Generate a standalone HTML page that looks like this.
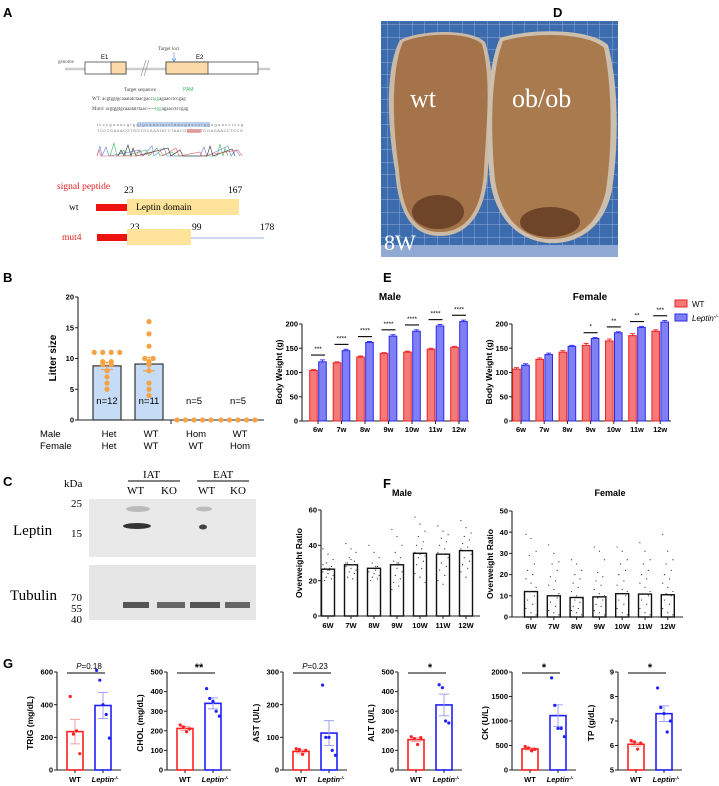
<!DOCTYPE html>
<html><head><meta charset="utf-8"><style>
html,body{margin:0;padding:0;background:#fff}
svg{display:block;font-family:"Liberation Sans",Arial,sans-serif}
.pl{font-weight:bold;font-size:13px}
.tk{font-size:7.5px;font-weight:bold}
.yt{font-size:8.5px;font-weight:bold}
.ser{font-family:"Liberation Serif",serif}
</style></head><body>
<svg id="fig" width="719" height="786" viewBox="0 0 719 786">
<text class="pl" x="3" y="17">A</text>
<text class="pl" x="553" y="17">D</text>
<text class="pl" x="3" y="282">B</text>
<text class="pl" x="383" y="282">E</text>
<text class="pl" x="3" y="486">C</text>
<text class="pl" x="383" y="488">F</text>
<text class="pl" x="3" y="668">G</text>

<g>
<text x="58" y="63" font-size="5" class="ser" fill="#555">genome</text>
<line x1="65" y1="69" x2="270" y2="69" stroke="#ccc" stroke-width="2.5"/>
<rect x="85" y="62" width="41" height="12" fill="#fff" stroke="#333" stroke-width="0.7"/>
<rect x="111" y="62" width="15" height="12" fill="#fbd9a8" stroke="#333" stroke-width="0.7"/>
<line x1="141" y1="76" x2="146" y2="60" stroke="#888" stroke-width="0.6"/>
<line x1="144" y1="76" x2="149" y2="60" stroke="#888" stroke-width="0.6"/>
<rect x="166" y="62" width="92" height="12" fill="#fff" stroke="#333" stroke-width="0.7"/>
<rect x="166" y="62" width="42" height="12" fill="#fbd9a8" stroke="#333" stroke-width="0.7"/>
<text x="101" y="59" font-size="6">E1</text>
<text x="196" y="59" font-size="6">E2</text>
<text x="158" y="50" font-size="5" class="ser" fill="#444">Target loci</text>
<line x1="174" y1="52" x2="174" y2="61" stroke="#4a7fd6" stroke-width="0.6"/>
<path d="M172,58 L174,62 L176,58" fill="none" stroke="#4a7fd6" stroke-width="0.6"/>
<text x="124" y="91" font-size="5" class="ser" fill="#444">Target sequence</text>
<text x="183" y="91" font-size="5" fill="#3cb86b">PAM</text>
<text x="92" y="100" font-size="5" class="ser" fill="#444">WT:   acgtggtgcaaatatctaacgacc<tspan fill="#3cb86b">tgg</tspan>agaacctccgag</text>
<text x="92" y="110" font-size="5" class="ser" fill="#444">Mut4:  acgtggtgcaaatatctaac-----<tspan fill="#3cb86b">tgg</tspan>agaacctccgag</text>
<rect x="137" y="122" width="73" height="5" fill="#b9d0f0"/>
<rect x="187" y="129" width="14" height="4" fill="#f4a8a8"/>
<text x="97" y="126" font-size="4" fill="#777" textLength="146">tcccgaaacgtggtgcaaatatctaacgaccctggagaacctccg</text>
<text x="97" y="132" font-size="4" fill="#777" textLength="146">TCCCGAAACGTGGTGCAAATATCTAACGCCCCTGGAGAACCTCCG</text>
<polyline fill="none" stroke="#6a7fe0" stroke-width="0.6" points="97,156 100,146 102,156 106,147 109,156 140,150 143,156 152,146 154,156 164,148 167,156 200,156 204,147 207,156 228,146 231,156 236,150 240,156"/>
<polyline fill="none" stroke="#3cb86b" stroke-width="0.6" points="110,156 114,143 117,156 124,150 126,156 146,150 149,156 157,148 160,156 172,152 175,156 217,156 220,144 223,156 225,148 228,156"/>
<polyline fill="none" stroke="#333" stroke-width="0.6" points="118,156 121,150 124,156 128,145 131,156 133,148 136,156 168,148 171,156 180,150 183,156 207,156 210,146 213,156 232,149 235,156"/>
<polyline fill="none" stroke="#e06060" stroke-width="0.6" points="97,156 99,150 101,156 136,156 139,150 141,156 160,150 163,156 176,148 179,156 200,152 202,156 238,150 242,156"/>
</g>
<g>
<text x="57" y="189" font-size="9.5" class="ser" fill="#e52222">signal peptide</text>
<text x="124" y="193" font-size="9.5" class="ser">23</text>
<text x="228" y="193" font-size="9.5" class="ser">167</text>
<text x="69" y="210" font-size="9.5" class="ser">wt</text>
<rect x="96" y="204" width="31" height="7" fill="#ee1111"/>
<rect x="127" y="199" width="112" height="16" fill="#fde49a"/>
<text x="136" y="210" font-size="9.5" class="ser">Leptin domain</text>
<text x="130" y="230" font-size="9.5" class="ser">23</text>
<text x="192" y="230" font-size="9.5" class="ser">99</text>
<text x="260" y="230" font-size="9.5" class="ser">178</text>
<text x="62" y="240" font-size="9.5" class="ser" fill="#e52222">mut4</text>
<rect x="97" y="234" width="31" height="7" fill="#ee1111"/>
<rect x="127" y="229" width="64" height="16" fill="#fde49a"/>
<line x1="191" y1="238" x2="264" y2="238" stroke="#7a9ad8" stroke-width="0.8"/>
</g>

<g>
<defs><pattern id="grid" width="12.5" height="12.5" patternUnits="userSpaceOnUse"><rect width="12.5" height="12.5" fill="#3d6cae"/><path d="M12.5,0 L12.5,12.5 M0,12.5 L12.5,12.5" stroke="#a9c2e6" stroke-width="0.7"/></pattern></defs>
<rect x="381" y="21" width="237" height="236" fill="url(#grid)"/>
<rect x="381" y="245" width="237" height="12" fill="#8fa9d2"/>
<path d="M400,40 C420,30 470,28 485,42 C498,80 490,130 488,170 C486,210 470,236 440,236 C410,236 398,210 395,170 C388,130 384,70 400,40 Z" fill="#c9b9a5"/>
<path d="M403,42 C422,33 468,31 482,44 C492,80 486,130 484,170 C482,208 468,232 440,232 C412,232 402,208 399,170 C393,130 390,72 403,42 Z" fill="#a5734a"/>
<path d="M500,38 C530,28 590,28 608,45 C620,90 618,150 612,190 C604,230 575,245 548,243 C515,240 495,215 490,180 C485,130 486,70 500,38 Z" fill="#cdbfae"/>
<path d="M503,41 C532,32 588,32 604,48 C613,90 612,150 606,190 C598,228 574,240 548,239 C518,237 500,213 495,180 C490,130 491,72 503,41 Z" fill="#a97a4e"/>
<ellipse cx="438" cy="212" rx="26" ry="17" fill="#6e4528"/>
<ellipse cx="550" cy="222" rx="30" ry="15" fill="#6e4528"/>
<text x="410" y="107" font-size="26" class="ser" fill="#fff">wt</text>
<text x="512" y="107" font-size="26" class="ser" fill="#fff">ob/ob</text>
<text x="384" y="250" font-size="22" class="ser" fill="#fff">8W</text>
</g>

<g>
<text x="64" y="487" font-size="11" class="ser">kDa</text>
<text x="143" y="478" font-size="11" class="ser">IAT</text>
<line x1="128" y1="481" x2="180" y2="481" stroke="#000" stroke-width="0.9"/>
<text x="213" y="478" font-size="11" class="ser">EAT</text>
<line x1="197" y1="481" x2="249" y2="481" stroke="#000" stroke-width="0.9"/>
<text x="127" y="494" font-size="11" class="ser">WT</text>
<text x="161" y="494" font-size="11" class="ser">KO</text>
<text x="198" y="494" font-size="11" class="ser">WT</text>
<text x="230" y="494" font-size="11" class="ser">KO</text>
<rect x="89" y="499" width="167" height="58" fill="#e9e9e9"/>
<ellipse cx="137" cy="526" rx="14" ry="3" fill="#333"/>
<ellipse cx="138" cy="509" rx="12" ry="3" fill="#bbb"/>
<ellipse cx="204" cy="509" rx="8" ry="2.5" fill="#bbb"/>
<ellipse cx="203" cy="527" rx="4" ry="2.5" fill="#444"/>
<rect x="89" y="565" width="167" height="55" fill="#e6e6e6"/>
<rect x="123" y="602" width="26" height="6" fill="#555"/>
<rect x="157" y="602" width="28" height="6" fill="#666"/>
<rect x="190" y="602" width="30" height="6" fill="#555"/>
<rect x="225" y="602" width="25" height="6" fill="#666"/>
<text x="13" y="535" font-size="15" class="ser">Leptin</text>
<text x="71" y="507" font-size="11" class="ser">25</text>
<text x="71" y="537" font-size="11" class="ser">15</text>
<text x="10" y="600" font-size="15" class="ser">Tubulin</text>
<text x="71" y="601" font-size="11" class="ser">70</text>
<text x="71" y="612" font-size="11" class="ser">55</text>
<text x="71" y="623" font-size="11" class="ser">40</text>
</g>
<g id="charts"></g>
</svg>
<script>
const litterGroups = ["Het\nHet","WT\nWT","Hom\nWT","WT\nHom"];
const litterMeans = [8.8, 9.1, 0, 0];
const litterSem = [0.6, 1.1, 0, 0];
const litterN = ["n=12","n=11","n=5","n=5"];
const litterPts = [[11,11,11,11,9.5,9.5,9,9,8,7,6,5],[16,14,12,10,10,9.5,9,8,6,5,4],[0,0,0,0,0],[0,0,0,0,0]];
const litterTicks = [0,5,10,15,20];
const weeks = ["6w","7w","8w","9w","10w","11w","12w"];
const maleWT = [104,120,132,139,142,148,152];
const maleKO = [122,145,162,175,185,196,205];
const maleWTsem = [2,2,2,2,2,2,2];
const maleKOsem = [4,3,2,3,3,3,3];
const maleSig = ["***","****","****","****","****","****","****"];
const femWT = [107,127,142,156,165,176,185];
const femKO = [115,137,154,170,182,193,204];
const femWTsem = [3,3,3,4,4,4,3];
const femKOsem = [3,3,2,2,2,2,3];
const femSig = ["","","","*","**","**","***"];
const bwTicks = [0,50,100,150,200];
const weeksF = ["6W","7W","8W","9W","10W","11W","12W"];
const maleOR = [26.5,29,27,29,35.5,35,37];
const femOR = [12,10,9.2,9.5,11,10.8,10.5];
const maleORpts = [[38,35,32,30,28,27,26,25,24,23,22,21,20,27,29,26],[41,38,36,33,31,30,29,28,27,26,25,24,22,21,30,32],[40,36,33,30,28,27,26,25,24,23,22,21,20,28],[49,45,40,36,33,31,30,29,27,25,23,21,19,17,15,30],[56,52,48,45,42,40,38,36,35,34,33,31,29,27,24,22,19],[51,48,46,44,42,40,38,36,35,33,30,28,26,23,20,18],[54,50,47,45,43,41,39,38,37,35,33,31,29,27,25,22]];
const femORpts = [[39,37,31,29,25,22,20,18,16,14,12,10,8,6,4,2,1],[34,30,26,25,22,19,17,15,13,11,10,9,7,5,3,2,1],[27,25,22,20,18,16,14,12,10,9,8,7,5,4,3,2,1],[33,31,27,21,19,17,15,13,11,10,9,8,6,5,3,2,1],[33,31,27,25,22,20,17,15,13,12,11,10,8,6,4,2,1],[35,31,27,25,22,20,18,16,14,12,11,10,8,6,4,2,1],[39,31,27,25,22,20,18,16,14,12,11,10,8,6,4,2,1]];
const maleORTicks = [0,20,40,60];
const femORTicks = [0,10,20,30,40,50];
const gNames = ["TRIG (mg/dL)","CHOL (mg/dL)","AST (U/L)","ALT (U/L)","CK (U/L)","TP (g/dL)"];
const gWT = [235,212,57,155,430,6.05];
const gKO = [395,340,113,332,1110,7.3];
const gWTsem = [75,10,5,10,25,0.08];
const gKOsem = [80,28,38,55,220,0.32];
const gWTpts = [[450,220,240,100],[230,220,195,210],[65,63,48,60],[170,160,130,165],[480,450,390,420],[6.2,6.15,5.85,6.1]];
const gKOpts = [[610,550,400,340,195],[415,365,350,300,275],[260,100,100,60,45],[435,420,250,240],[1880,1320,850,850,680],[8.35,7.55,7.3,6.55,7.0]];
const gSig = ["P=0.18","**","P=0.23","*","*","*"];
const gTicks = [[0,200,400,600],[0,100,200,300,400,500],[0,100,200,300],[0,100,200,300,400,500],[0,500,1000,1500,2000],[5,6,7,8,9]];
const gMax = [700,500,300,500,2000,9];
const gMin = [0,0,0,0,0,5];

const NS="http://www.w3.org/2000/svg";
const root=document.getElementById('charts');
function mk(tag,attrs,parent){const e=document.createElementNS(NS,tag);for(const k in attrs)e.setAttribute(k,attrs[k]);(parent||root).appendChild(e);return e;}
function txt(s,attrs,parent){const e=mk('text',attrs,parent);e.textContent=s;return e;}
function lin(d0,d1,r0,r1){return v=>r0+(v-d0)/(d1-d0)*(r1-r0);}
function yAxis(g,x,y,ticks,fs){mk('line',{x1:x,y1:y(ticks[0]),x2:x,y2:y(ticks[ticks.length-1]),stroke:'#222','stroke-width':1.1},g);ticks.forEach(t=>{mk('line',{x1:x-3,y1:y(t),x2:x,y2:y(t),stroke:'#222','stroke-width':1},g);txt(String(t),{x:x-4,y:y(t)+2.6,'text-anchor':'end',class:'tk','font-size':fs||7.5},g);});}

(function(){
 const g=mk('g',{});
 
 
 const y=lin(0,20,420,297); const xs=[107,149,194,238];
 yAxis(g,78,y,litterTicks,9);
 mk('line',{x1:78,y1:420,x2:264,y2:420,stroke:'#222','stroke-width':1.1},g);
 mk('line',{x1:171,y1:420,x2:171,y2:424,stroke:'#222','stroke-width':1},g);
 txt('Litter size',{x:0,y:0,transform:'translate(56,358) rotate(-90)','text-anchor':'middle','font-size':10,'font-weight':'bold'},g);
 litterGroups.forEach((lab,i)=>{
  if(litterMeans[i]>0){const b=mk('rect',{x:xs[i]-14,y:y(litterMeans[i]),width:28,height:420-y(litterMeans[i]),fill:'#c6dbf5',stroke:'#333','stroke-width':1.2},g);
   
   
   mk('line',{x1:xs[i],y1:y(litterMeans[i]+litterSem[i]),x2:xs[i],y2:y(litterMeans[i]-litterSem[i]),stroke:'#f5a040',"stroke-width":1},g);
   mk('line',{x1:xs[i]-6,y1:y(litterMeans[i]+litterSem[i]),x2:xs[i]+6,y2:y(litterMeans[i]+litterSem[i]),stroke:'#f5a040',"stroke-width":1},g);
   mk('line',{x1:xs[i]-6,y1:y(litterMeans[i]-litterSem[i]),x2:xs[i]+6,y2:y(litterMeans[i]-litterSem[i]),stroke:'#f5a040',"stroke-width":1},g);}
  const cnt={};litterPts[i].forEach(v=>{cnt[v]=(cnt[v]||0)+1;});
  const seen={};litterPts[i].forEach(v=>{const n=cnt[v];const k=seen[v]=(seen[v]||0)+1;const off=(k-1-(n-1)/2)*8.5;
   const c=mk('circle',{cx:xs[i]+off,cy:y(v),r:2.6,fill:'#f7a245'},g);
   
   });
  txt(litterN[i],{x:xs[i],y:404,'text-anchor':'middle','font-size':9.5},g);
  const p=lab.split('\n');
  txt(p[0],{x:xs[i]+2,y:437,'text-anchor':'middle','font-size':9.5},g);
  txt(p[1],{x:xs[i]+2,y:449,'text-anchor':'middle','font-size':9.5},g);
 });
 txt('Male',{x:40,y:437,'font-size':9.5},g);txt('Female',{x:40,y:449,'font-size':9.5},g);
})();

function bwChart(name,ax,xEnd,x0,dx,wt,ko,wts,kos,sig,title,tx){
 const g=mk('g',{});
 
 
 const y=lin(0,200,421,324);
 yAxis(g,ax,y,bwTicks);
 mk('line',{x1:ax,y1:421,x2:xEnd,y2:421,stroke:'#222','stroke-width':1.1},g);
 txt('Body Weight (g)',{transform:`translate(${ax-20},372) rotate(-90)`,'text-anchor':'middle',class:'yt'},g);
 txt(title,{x:tx,y:300,'text-anchor':'middle','font-size':10,'font-weight':'bold'},g);
 weeks.forEach((w,i)=>{const c=x0+i*dx;
  [[wt,wts,'#f47a7a','#ee2222',-4.5],[ko,kos,'#8080f4','#2a2aee',4.5]].forEach(([d,s,f,st,o])=>{
   const bx=c+o;const r=mk('rect',{x:bx-3.8,y:y(d[i]),width:7.6,height:421-y(d[i]),fill:f,stroke:st,'stroke-width':1},g);
   
   
   mk('line',{x1:bx,y1:y(d[i]),x2:bx,y2:y(d[i]+s[i]),stroke:st,'stroke-width':0.9},g);
   mk('line',{x1:bx-2.5,y1:y(d[i]+s[i]),x2:bx+2.5,y2:y(d[i]+s[i]),stroke:st,'stroke-width':0.9},g);
  });
  mk('line',{x1:c,y1:421,x2:c,y2:424,stroke:'#222','stroke-width':1},g);
  txt(w,{x:c,y:432,'text-anchor':'middle',class:'tk'},g);
  if(sig[i]){const ly=y(ko[i]+kos[i]+10);mk('line',{x1:c-7,y1:ly,x2:c+7,y2:ly,stroke:'#000','stroke-width':1.1},g);
   txt(sig[i],{x:c,y:ly-4,'text-anchor':'middle','font-size':6.5},g);}
 });
}
bwChart('male-weight-chart',302,469,318,23.5,maleWT,maleKO,maleWTsem,maleKOsem,maleSig,'Male',390);
bwChart('female-weight-chart',512,671,521,23.2,femWT,femKO,femWTsem,femKOsem,femSig,'Female',590);
(function(){const g=mk('g',{});
 
 
 mk('rect',{x:675,y:300,width:12,height:7,fill:'#f47a7a',stroke:'#ee2222','stroke-width':1},g);
 txt('WT',{x:692,y:307,'font-size':8},g);
 mk('rect',{x:675,y:314,width:12,height:7,fill:'#8080f4',stroke:'#2a2aee','stroke-width':1},g);
 const t=txt('Leptin',{x:692,y:321,'font-size':8,'font-style':'italic'},g);
 const s=mk('tspan',{dy:-3,'font-size':5},t);s.textContent='-/-';
})();

function orChart(name,ax,xEnd,y0,yTop,tMax,ticks,x0,dx,means,pts,title,tx){
 const g=mk('g',{});
 
 
 const y=lin(0,tMax,y0,yTop);
 yAxis(g,ax,y,ticks);
 mk('line',{x1:ax,y1:y0,x2:xEnd,y2:y0,stroke:'#222','stroke-width':1.1},g);
 txt('Overweight Ratio',{transform:`translate(${ax-19},${(y0+yTop)/2}) rotate(-90)`,'text-anchor':'middle',class:'yt'},g);
 txt(title,{x:tx,y:496,'text-anchor':'middle','font-size':9,'font-weight':'bold'},g);
 weeksF.forEach((w,i)=>{const c=x0+i*dx;
  const r=mk('rect',{x:c-6.5,y:y(means[i]),width:13,height:y0-y(means[i]),fill:'#fff',stroke:'#111','stroke-width':1.4},g);
  
  
  pts[i].forEach((v,k)=>{const d=mk('circle',{cx:c+((k*3)%7-3)*1.7,cy:y(v),r:0.6,fill:'#333'},g);
   
   });
  mk('line',{x1:c,y1:y0,x2:c,y2:y0+3,stroke:'#222','stroke-width':1},g);
  txt(w,{x:c,y:y0+12,'text-anchor':'middle',class:'tk'},g);
 });
}
orChart('male-overweight-chart',321,480,616,510,60,maleORTicks,328,23,maleOR,maleORpts,'Male',402);
orChart('female-overweight-chart',512,683,617,511,50,femORTicks,531,22.8,femOR,femORpts,'Female',610);

const gAx=[57,167,283,398,512,618];
gNames.forEach((nm,j)=>{
 const g=mk('g',{});
 
 
 const ax=gAx[j];const y=lin(gMin[j],gMax[j],770,770-(gMax[j]-gMin[j])/(gTicks[j][gTicks[j].length-1]-gMin[j])*98);
 yAxis(g,ax,y,gTicks[j]);
 mk('line',{x1:ax,y1:770,x2:ax+64,y2:770,stroke:'#222','stroke-width':1.1},g);
 txt(nm,{transform:`translate(${ax-24},723) rotate(-90)`,'text-anchor':'middle',class:'yt'},g);
 const cw=ax+18,ck=ax+46;
 [[cw,gWT,gWTsem,gWTpts,'#ff2020','#f7a0a0'],[ck,gKO,gKOsem,gKOpts,'#2020ff','#a0a0f7']].forEach(([c,m,s,p,col,lt])=>{
  const r=mk('rect',{x:c-8,y:y(m[j]),width:16,height:770-y(m[j]),fill:'#fff',stroke:col,'stroke-width':1.6},g);
  
  
  mk('line',{x1:c,y1:y(m[j]+s[j]),x2:c,y2:y(m[j]-s[j]),stroke:lt,'stroke-width':1},g);
  mk('line',{x1:c-5,y1:y(m[j]+s[j]),x2:c+5,y2:y(m[j]+s[j]),stroke:lt,'stroke-width':1},g);
  mk('line',{x1:c-5,y1:y(m[j]-s[j]),x2:c+5,y2:y(m[j]-s[j]),stroke:lt,'stroke-width':1},g);
  p[j].forEach((v,k)=>{const n=p[j].length;const d=mk('circle',{cx:c+(k-(n-1)/2)*3.2,cy:y(v),r:1.6,fill:col},g);
   
   });
  mk('line',{x1:c,y1:770,x2:c,y2:773,stroke:'#222','stroke-width':1},g);
 });
 txt('WT',{x:cw,y:782,'text-anchor':'middle',class:'tk'},g);
 const t=txt('Leptin',{x:ck+2,y:782,'text-anchor':'middle',class:'tk','font-style':'italic'},g);
 const sp=mk('tspan',{dy:-2.5,'font-size':4.5},t);sp.textContent='-/-';
 mk('line',{x1:cw-8,y1:673,x2:ck+2,y2:673,stroke:'#000','stroke-width':0.9},g);
 if(gSig[j].startsWith('P')){const t2=txt('',{x:(cw+ck)/2,y:669,'text-anchor':'middle','font-size':8},g);
  const a=mk('tspan',{'font-style':'italic'},t2);a.textContent='P';const b=mk('tspan',{},t2);b.textContent=gSig[j].slice(1);}
 else txt(gSig[j],{x:(cw+ck)/2,y:671,'text-anchor':'middle','font-size':11,'font-weight':'bold'},g);
});
</script>
</body></html>
